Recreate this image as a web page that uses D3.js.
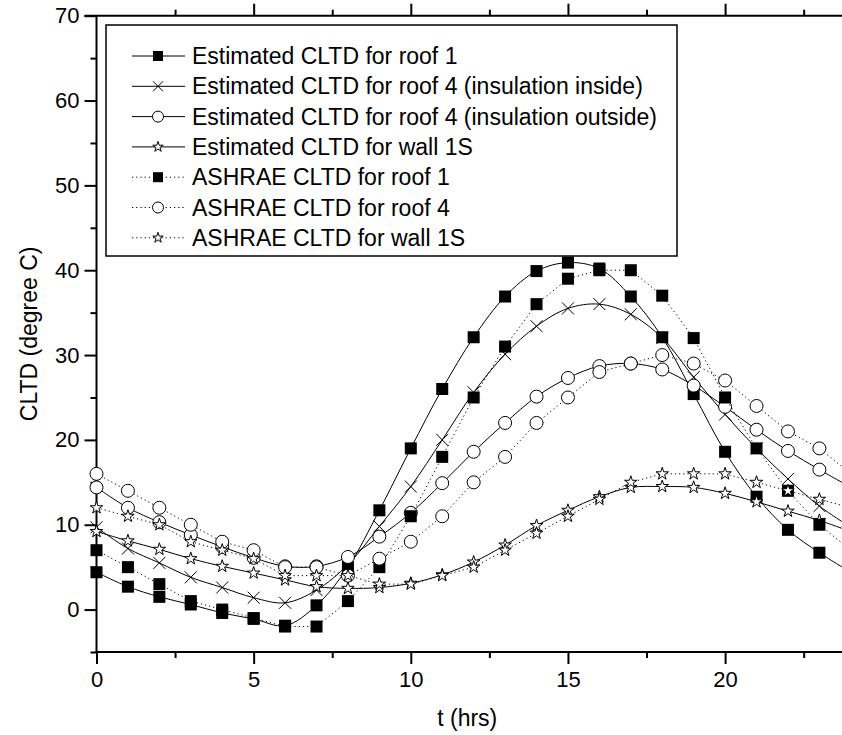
<!DOCTYPE html>
<html>
<head>
<meta charset="utf-8">
<script src="https://cdn.jsdelivr.net/npm/d3@7"></script>
<style>
  body { margin: 0; background: #fff; }
  text { font-family: "Liberation Sans", Arial, sans-serif; }
</style>
</head>
<body>
<div id="chart"></div>
<script>
// hours of the day, 24 repeats hour 0 (daily cycle)
var hours = [0,1,2,3,4,5,6,7,8,9,10,11,12,13,14,15,16,17,18,19,20,21,22,23,24];

var estRoof1    = [4.4,2.7,1.5,0.6,-0.4,-1.1,-1.9,0.5,5.0,11.7,19.0,26.0,32.1,36.9,39.9,40.9,40.2,36.9,32.1,25.4,18.6,13.3,9.4,6.7,4.4];
var estRoof4In  = [9.7,7.2,5.5,3.8,2.6,1.4,0.8,2.3,5.3,9.8,14.5,20.0,25.6,30.1,33.4,35.5,36.0,34.8,32.0,27.4,23.0,19.0,15.4,12.2,9.7];
var estRoof4Out = [14.4,12.0,10.3,8.8,7.4,6.1,5.1,5.1,6.2,8.6,11.4,14.9,18.6,22.0,25.1,27.3,28.7,29.0,28.3,26.4,23.9,21.2,18.7,16.5,14.4];
var estWall1S   = [9.2,8.1,7.1,6.0,5.1,4.3,3.5,2.7,2.5,2.6,3.1,4.1,5.6,7.6,9.9,11.7,13.3,14.4,14.5,14.4,13.7,12.7,11.6,10.5,9.2];
var ashRoof1    = [7,5,3,1,0,-1,-2,-2,1,5,11,18,25,31,36,39,40,40,37,32,25,19,14,10,7];
var ashRoof4    = [16,14,12,10,8,7,5,5,4,6,8,11,15,18,22,25,28,29,30,29,27,24,21,19,16];
var ashWall1S   = [12,11,10,8,7,6,4,4,4,3,3,4,5,7,9,11,13,15,16,16,16,15,14,13,12];

var seriesNames = [
  "Estimated CLTD for roof 1",
  "Estimated CLTD for roof 4 (insulation inside)",
  "Estimated CLTD for roof 4 (insulation outside)",
  "Estimated CLTD for wall 1S",
  "ASHRAE CLTD for roof 1",
  "ASHRAE CLTD for roof 4",
  "ASHRAE CLTD for wall 1S"
];
var seriesValues = [estRoof1, estRoof4In, estRoof4Out, estWall1S, ashRoof1, ashRoof4, ashWall1S];
var seriesMarks  = ["square", "cross", "circle", "star", "square", "circle", "star"];
var seriesDotted = [false, false, false, false, true, true, true];

var xMajor = [0,5,10,15,20];
var xMinor = [2.5,7.5,12.5,17.5,22.5];
var yMajor = [0,10,20,30,40,50,60,70];
var yMinor = [-5,5,15,25,35,45,55,65];

var width = 842, height = 735;
var plotLeft = 96.5, plotTop = 15.7, plotBottom = 652;

var svg = d3.select("#chart")
  .append("svg")
    .attr("width", width)
    .attr("height", height);

var x = d3.scaleLinear().domain([0, 24]).range([plotLeft, plotLeft + 24 * 31.43]);
var y = d3.scaleLinear().domain([-5, 70]).range([plotBottom, plotTop]);

// clip for plot content
svg.append("clipPath").attr("id", "plot")
  .append("rect").attr("x", plotLeft - 10).attr("y", plotTop - 10)
  .attr("width", width - plotLeft + 10).attr("height", plotBottom - plotTop + 20);

function styleAxis(g) {
  g.select(".domain").remove();
  g.selectAll(".tick line").attr("stroke", "#000").attr("stroke-width", 2);
  g.selectAll(".tick text").attr("font-size", "22px").attr("fill", "#000")
    .attr("font-family", "'Liberation Sans', Arial, sans-serif");
}

// bottom axis
svg.append("g").attr("transform", "translate(0," + plotBottom + ")")
  .call(d3.axisBottom(x).tickValues(xMajor).tickSize(12).tickPadding(7).tickFormat(d3.format("d")))
  .call(styleAxis);
svg.append("g").attr("transform", "translate(0," + plotBottom + ")")
  .call(d3.axisBottom(x).tickValues(xMinor).tickSize(6).tickFormat(""))
  .call(styleAxis);

// top axis (ticks only)
svg.append("g").attr("transform", "translate(0," + plotTop + ")")
  .call(d3.axisTop(x).tickValues(xMajor.slice(1)).tickSize(12).tickFormat(""))
  .call(styleAxis);
svg.append("g").attr("transform", "translate(0," + plotTop + ")")
  .call(d3.axisTop(x).tickValues(xMinor).tickSize(6).tickFormat(""))
  .call(styleAxis);

// left axis
svg.append("g").attr("transform", "translate(" + plotLeft + ",0)")
  .call(d3.axisLeft(y).tickValues(yMajor).tickSize(12).tickPadding(5).tickFormat(d3.format("d")))
  .call(styleAxis);
svg.append("g").attr("transform", "translate(" + plotLeft + ",0)")
  .call(d3.axisLeft(y).tickValues(yMinor).tickSize(6).tickFormat(""))
  .call(styleAxis);

// frame lines (left, bottom, top)
svg.append("line").attr("x1", plotLeft).attr("x2", plotLeft).attr("y1", plotTop).attr("y2", plotBottom)
  .attr("stroke", "#000").attr("stroke-width", 2);
svg.append("line").attr("x1", plotLeft).attr("x2", width).attr("y1", plotBottom).attr("y2", plotBottom)
  .attr("stroke", "#000").attr("stroke-width", 2);
svg.append("line").attr("x1", plotLeft - 12).attr("x2", width).attr("y1", plotTop).attr("y2", plotTop)
  .attr("stroke", "#000").attr("stroke-width", 2);

// axis titles
svg.append("text")
  .attr("x", (plotLeft + width) / 2 - 2)
  .attr("y", 726)
  .attr("text-anchor", "middle")
  .attr("font-size", "23px")
  .text("t (hrs)");

svg.append("text")
  .attr("transform", "translate(37," + ((plotTop + plotBottom) / 2) + ") rotate(-90)")
  .attr("text-anchor", "middle")
  .attr("font-size", "23px")
  .text("CLTD (degree C)");

// marker drawing
function drawMark(sel, kind, s) {
  if (kind === "square") {
    sel.append("rect").attr("x", -s).attr("y", -s).attr("width", 2 * s).attr("height", 2 * s)
      .attr("fill", "#000");
  } else if (kind === "circle") {
    sel.append("circle").attr("r", s + 0.5).attr("fill", "#fff").attr("stroke", "#000").attr("stroke-width", 1);
  } else if (kind === "cross") {
    sel.append("path").attr("d", "M" + (-s) + "," + (-s) + "L" + s + "," + s + "M" + s + "," + (-s) + "L" + (-s) + "," + s)
      .attr("stroke", "#000").attr("stroke-width", 1).attr("fill", "none");
  } else if (kind === "star") {
    sel.append("path").attr("d", d3.symbol().type(d3.symbolStar).size(s * s * 1.35)())
      .attr("fill", "#fff").attr("stroke", "#000").attr("stroke-width", 1);
  }
}

var plot = svg.append("g").attr("clip-path", "url(#plot)");

seriesValues.forEach(function(vals, i) {
  var pts = hours.map(function(h, j) { return [h, vals[j]]; });
  var line = d3.line()
    .x(function(d) { return x(d[0]); })
    .y(function(d) { return y(d[1]); })
    .curve(seriesDotted[i] ? d3.curveLinear : d3.curveCatmullRom);

  plot.append("path")
    .datum(pts)
    .attr("d", line)
    .attr("fill", "none")
    .attr("stroke", "#000")
    .attr("stroke-width", 1)
    .attr("stroke-dasharray", seriesDotted[i] ? "1.2,3" : null);

  plot.selectAll(".m" + i)
    .data(pts.slice(0, 24))
    .enter()
    .append("g")
    .attr("transform", function(d) { return "translate(" + x(d[0]) + "," + y(d[1]) + ")"; })
    .each(function() { drawMark(d3.select(this), seriesMarks[i], 6); });
});

// legend
var legend = svg.append("g");
legend.append("rect")
  .attr("x", 106).attr("y", 25).attr("width", 571).attr("height", 231)
  .attr("fill", "#fff").attr("stroke", "#000").attr("stroke-width", 1.5);

seriesNames.forEach(function(name, i) {
  var ly = 56 + i * 30.3;
  legend.append("line")
    .attr("x1", 132).attr("x2", 185).attr("y1", ly).attr("y2", ly)
    .attr("stroke", "#000").attr("stroke-width", 1)
    .attr("stroke-dasharray", seriesDotted[i] ? "1.2,3" : null);
  var m = legend.append("g").attr("transform", "translate(158," + ly + ")");
  drawMark(m, seriesMarks[i], 5);
  legend.append("text")
    .attr("x", 192).attr("y", ly)
    .attr("dy", "0.35em")
    .attr("font-size", "23px")
    .text(name);
});
</script>
</body>
</html>
